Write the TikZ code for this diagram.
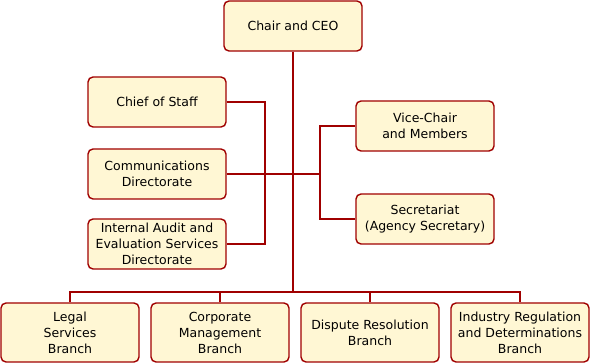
\documentclass[tikz,border=0pt]{standalone}
\usepackage{fontspec}
\setmainfont{DejaVu Sans}
\usetikzlibrary{positioning}
\definecolor{boxline}{RGB}{160,0,0}
\definecolor{boxfill}{RGB}{255,247,212}
\tikzstyle{unit} = [rectangle, rounded corners=5pt, minimum width=138pt, minimum height=50pt, text centered, align=center, draw=boxline, line width=1.4pt, fill=boxfill, font=\fontsize{12.5}{16}\selectfont]
\tikzstyle{branch} = [unit, minimum height=59pt]
\tikzstyle{link} = [draw=boxline, line width=1.5pt]
\begin{document}
\begin{tikzpicture}[x=1pt, y=1pt]
\useasboundingbox (0,0) rectangle (590,-363);

\node (chair) [unit] at (293,-26) {Chair and CEO};
\node (staff) [unit] at (157,-102) {Chief of Staff};
\node (comms) [unit] at (157,-174) {Communications\\Directorate};
\node (audit) [unit] at (157,-244) {Internal Audit and\\Evaluation Services\\Directorate};
\node (vice) [unit] at (425,-126) {Vice-Chair\\and Members};
\node (secr) [unit] at (425,-219) {Secretariat\\(Agency Secretary)};
\node (legal) [branch] at (70,-332.5) {Legal\\Services\\Branch};
\node (corp) [branch, right=10.6pt of legal] {Corporate\\Management\\Branch};
\node (disp) [branch, right=10.6pt of corp] {Dispute Resolution\\Branch};
\node (ind) [branch, right=10.6pt of disp] {Industry Regulation\\and Determinations\\Branch};

\coordinate (bus) at (293,-292);
\coordinate (lfork) at (265,-174);
\coordinate (rfork) at (320,-174);

\draw [link] (chair) -- (bus);
\draw [link] (legal.north) |- (bus) -| (ind.north);
\draw [link] (corp.north) -- (corp.north |- bus);
\draw [link] (disp.north) -- (disp.north |- bus);
\draw [link] (staff.east) -| (lfork) |- (audit.east);
\draw [link] (comms.east) -- (comms.east -| rfork);
\draw [link] (vice.west) -| (rfork) |- (secr.west);

\end{tikzpicture}
\end{document}
